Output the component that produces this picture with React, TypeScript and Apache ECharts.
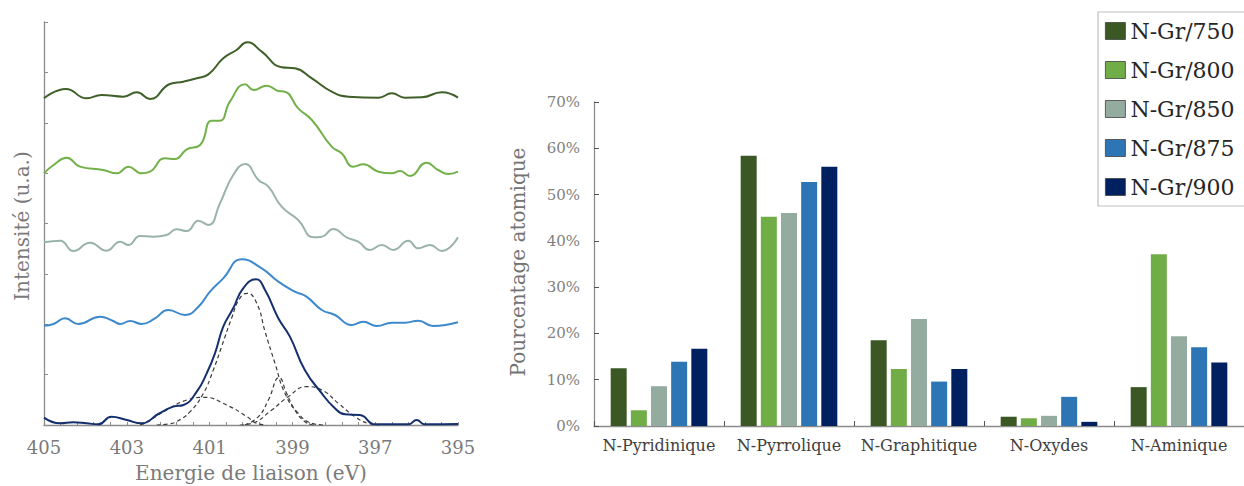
import React, { useEffect, useRef } from "react";
import * as echarts from "echarts";

const FONT = "DejaVu Serif";

// ---------- Right panel: bar chart ----------
const CATEGORIES = ["N-Pyridinique", "N-Pyrrolique", "N-Graphitique", "N-Oxydes", "N-Aminique"];
const SAMPLES = ["N-Gr/750", "N-Gr/800", "N-Gr/850", "N-Gr/875", "N-Gr/900"];
const PCT_750 = [12.5, 58.4, 18.5, 2.0, 8.4];
const PCT_800 = [3.4, 45.2, 12.3, 1.7, 37.1];
const PCT_850 = [8.6, 46.0, 23.1, 2.2, 19.4];
const PCT_875 = [13.9, 52.7, 9.6, 6.3, 17.0];
const PCT_900 = [16.7, 56.0, 12.3, 0.9, 13.7];
const BAR_COLORS = ["#3a5724", "#70ad47", "#94aba0", "#2e75b6", "#002060"];

// ---------- Left panel: N1s spectra (energy eV, intensity a.u.) ----------
const E_750 = [405.0, 404.47, 403.97, 403.61, 403.08, 402.76, 402.44, 401.96, 401.63, 401.31, 401.03, 400.67, 400.35, 400.09, 399.74, 399.26, 398.94, 398.53, 398.05, 397.65, 396.92, 396.6, 396.28, 395.88, 395.39, 395.0];
const I_750 = [980, 1008, 980, 990, 985, 998, 978, 1023, 1030, 1040, 1052, 1100, 1125, 1148, 1120, 1073, 1070, 1040, 1000, 985, 982, 995, 982, 983, 998, 982];

const E_800 = [405.0, 404.77, 404.45, 404.13, 403.57, 403.24, 402.96, 402.64, 402.44, 402.08, 401.84, 401.55, 401.23, 400.95, 400.75, 400.51, 400.14, 399.94, 399.62, 399.34, 399.18, 398.86, 398.53, 398.05, 397.81, 397.53, 397.29, 396.92, 396.6, 396.4, 396.16, 395.76, 395.48, 395.23, 395.0];
const I_800 = [755, 780, 802, 775, 765, 755, 775, 755, 760, 800, 798, 827, 840, 913, 913, 970, 1022, 1005, 1018, 1002, 1000, 950, 915, 835, 815, 775, 782, 760, 755, 762, 747, 787, 765, 753, 760];

const E_850 = [405.0, 404.61, 404.29, 403.89, 403.49, 403.16, 402.96, 402.68, 402.36, 402.04, 401.8, 401.55, 401.27, 401.03, 400.75, 400.43, 400.14, 399.82, 399.58, 399.26, 398.86, 398.49, 398.29, 398.01, 397.69, 397.41, 397.13, 396.84, 396.56, 396.2, 395.96, 395.68, 395.39, 395.0];
const I_850 = [548, 553, 522, 547, 523, 550, 540, 567, 565, 570, 587, 582, 613, 600, 665, 750, 783, 735, 715, 655, 615, 563, 565, 588, 563, 550, 525, 540, 525, 553, 530, 540, 522, 563];

const E_875 = [405.0, 404.77, 404.49, 404.17, 403.65, 403.33, 403.16, 402.92, 402.64, 402.32, 402.0, 401.59, 401.27, 400.99, 400.67, 400.23, 399.74, 399.34, 398.94, 398.66, 398.29, 397.97, 397.57, 397.29, 396.96, 396.6, 396.28, 395.96, 395.6, 395.0];
const I_875 = [298, 303, 320, 303, 325, 312, 303, 312, 303, 320, 345, 330, 355, 400, 440, 497, 470, 430, 400, 385, 345, 330, 300, 310, 297, 307, 307, 313, 297, 308];

const E_900 = [405.0, 404.61, 404.29, 403.97, 403.69, 403.37, 403.0, 402.64, 402.24, 401.88, 401.63, 401.31, 401.07, 400.87, 400.67, 400.43, 400.19, 399.88, 399.66, 399.34, 399.06, 398.7, 398.29, 398.01, 397.73, 397.37, 397.0, 396.2, 396.0, 395.8, 395.0];
const I_900 = [22, 5, 8, 5, 2, 25, 15, 5, 33, 55, 60, 100, 155, 215, 295, 350, 410, 437, 405, 320, 265, 165, 95, 55, 32, 30, 2, 2, 15, 2, 3];

// Deconvolution components of N-Gr/900 (dashed)
const E_FIT_MAIN = [402.28, 402.0, 401.8, 401.47, 401.15, 400.91, 400.71, 400.47, 400.27, 400.09, 399.86, 399.66, 399.42, 399.18, 398.86, 398.53, 398.25];
const I_FIT_MAIN = [0, 3, 10, 40, 95, 165, 235, 320, 380, 395, 365, 280, 185, 95, 35, 5, 0];
const E_FIT_A = [402.68, 402.44, 402.04, 401.55, 401.14, 400.59, 400.1, 399.86, 399.62];
const I_FIT_A = [0, 15, 45, 75, 83, 60, 25, 5, 0];
const E_FIT_B = [400.15, 399.82, 399.58, 399.32, 399.14, 398.94, 398.7, 398.49];
const I_FIT_B = [0, 25, 75, 142, 95, 45, 10, 0];
const E_FIT_C = [400.27, 399.98, 399.5, 399.1, 398.66, 398.29, 397.89, 397.49, 397.17, 396.88];
const I_FIT_C = [0, 5, 45, 85, 115, 105, 65, 25, 5, 0];

const LINE_COLORS = ["#3f6029", "#72b04a", "#9ab3a9", "#3d89cc", "#16306f"];

export default function App() {
  const ref = useRef<HTMLDivElement>(null);

  useEffect(() => {
    document.body.style.margin = "0";
    const chart = echarts.init(ref.current as HTMLDivElement, null, { renderer: "svg" });
    const pair = (xs: number[], ys: number[]) => xs.map((x, i) => [x, ys[i]]);

    const spectra = [
      [E_750, I_750],
      [E_800, I_800],
      [E_850, I_850],
      [E_875, I_875],
      [E_900, I_900],
    ];
    const fits = [
      [E_FIT_MAIN, I_FIT_MAIN],
      [E_FIT_A, I_FIT_A],
      [E_FIT_B, I_FIT_B],
      [E_FIT_C, I_FIT_C],
    ];
    const pcts = [PCT_750, PCT_800, PCT_850, PCT_875, PCT_900];

    const axisGrey = "#8c8c8c";

    const series: any[] = [];
    fits.forEach(([e, v], i) => {
      series.push({
        type: "line",
        name: "fit" + i,
        xAxisIndex: 0,
        yAxisIndex: 0,
        data: pair(e as number[], v as number[]),
        showSymbol: false,
        smooth: 0.5,
        silent: true,
        z: 2,
        lineStyle: { color: "#3a3a3a", width: 1.2, type: [4, 3] },
      });
    });
    spectra.forEach(([e, v], i) => {
      series.push({
        type: "line",
        name: "spectre" + i,
        xAxisIndex: 0,
        yAxisIndex: 0,
        data: pair(e as number[], v as number[]),
        showSymbol: false,
        smooth: 0.5,
        silent: true,
        z: 3,
        lineStyle: { color: LINE_COLORS[i], width: 2 },
      });
    });
    pcts.forEach((d, i) => {
      series.push({
        type: "bar",
        name: SAMPLES[i],
        xAxisIndex: 2,
        yAxisIndex: 1,
        data: d,
        barWidth: 16,
        barGap: "26%",
        itemStyle: { color: BAR_COLORS[i] },
      });
    });

    const option: any = {
      animation: false,
      grid: [
        { left: 44, top: 22, width: 414, height: 403 },
        { left: 594, top: 102, width: 657, height: 324 },
      ],
      xAxis: [
        {
          type: "value",
          gridIndex: 0,
          min: 395,
          max: 405,
          interval: 1,
          inverse: true,
          axisLine: { show: true, onZero: false, lineStyle: { color: axisGrey, width: 1.3 } },
          axisTick: { show: false },
          splitLine: { show: false },
          axisLabel: {
            formatter: (v: number) => (Math.abs(Math.round(v)) % 2 === 1 ? String(Math.round(v)) : ""),
            color: "#7a7a7a",
            fontFamily: FONT,
            fontSize: 18,
            margin: 13,
            showMinLabel: true,
            showMaxLabel: true,
          },
        },
        {
          type: "value",
          gridIndex: 0,
          min: 0,
          max: 25,
          interval: 1,
          position: "bottom",
          axisLine: { show: false, onZero: false },
          axisLabel: { show: false },
          axisTick: { show: true, inside: true, length: 3, lineStyle: { color: axisGrey } },
          splitLine: { show: false },
        },
        {
          type: "category",
          gridIndex: 1,
          data: CATEGORIES,
          axisLine: { show: true, lineStyle: { color: axisGrey, width: 1.3 } },
          axisTick: { show: true, inside: true, length: 5, alignWithLabel: false, interval: 0, lineStyle: { color: "#555" } },
          axisLabel: { color: "#404040", fontFamily: FONT, fontSize: 16, margin: 11, interval: 0 },
        },
      ],
      yAxis: [
        {
          type: "value",
          gridIndex: 0,
          min: 0,
          max: 1209,
          interval: 151.125,
          axisLine: { show: true, onZero: false, lineStyle: { color: axisGrey, width: 1.3 } },
          axisTick: { show: true, inside: true, length: 4, lineStyle: { color: axisGrey } },
          axisLabel: { show: false },
          splitLine: { show: false },
        },
        {
          type: "value",
          gridIndex: 1,
          min: 0,
          max: 70,
          interval: 10,
          axisLine: { show: true, onZero: false, lineStyle: { color: axisGrey, width: 1.3 } },
          axisTick: { show: true, inside: true, length: 5, lineStyle: { color: "#555" } },
          axisLabel: { formatter: "{value}%", color: "#808080", fontFamily: FONT, fontSize: 15, margin: 14 },
          splitLine: { show: false },
        },
      ],
      legend: {
        data: SAMPLES,
        orient: "vertical",
        left: 1098,
        top: 12,
        padding: [8, 20, 8, 7],
        itemWidth: 20,
        itemHeight: 17,
        itemGap: 17,
        icon: "rect",
        borderColor: "#bfbfbf",
        borderWidth: 1.2,
        itemStyle: { borderColor: "#404040", borderWidth: 0.8 },
        textStyle: { fontFamily: FONT, fontSize: 22, color: "#262626" },
      },
      graphic: [
        {
          type: "text",
          x: 22,
          y: 226,
          rotation: Math.PI / 2,
          style: {
            text: "Intensité (u.a.)",
            fill: "#7a7a7a",
            fontFamily: FONT,
            fontSize: 20,
            align: "center",
            verticalAlign: "middle",
          },
        },
        {
          type: "text",
          x: 251,
          y: 473,
          style: {
            text: "Energie de liaison (eV)",
            fill: "#7a7a7a",
            fontFamily: FONT,
            fontSize: 20,
            align: "center",
            verticalAlign: "middle",
          },
        },
        {
          type: "text",
          x: 518,
          y: 262,
          rotation: Math.PI / 2,
          style: {
            text: "Pourcentage atomique",
            fill: "#737373",
            fontFamily: FONT,
            fontSize: 20,
            align: "center",
            verticalAlign: "middle",
          },
        },
      ],
      series,
    };

    chart.setOption(option);
    return () => chart.dispose();
  }, []);

  return (
    <div
      ref={ref}
      style={{ position: "fixed", left: 0, top: 0, width: 1244, height: 486, background: "#ffffff" }}
    />
  );
}
